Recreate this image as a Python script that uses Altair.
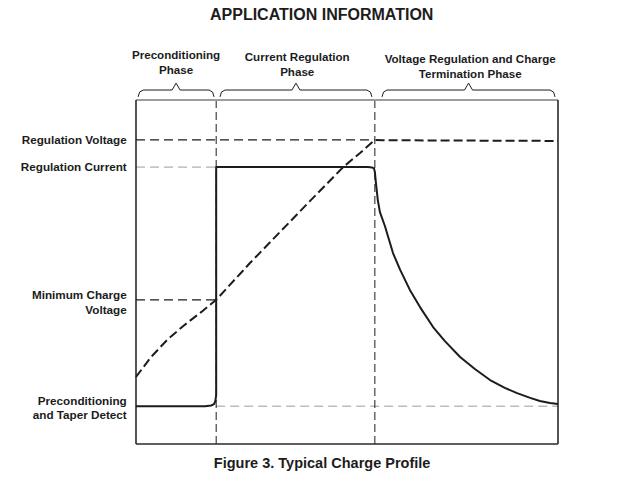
import altair as alt
import pandas as pd

# ---------------- data (time 0-100 across the plot, level 0-100 up the plot) -------------
phase_bounds = [19.0, 56.6]

level_names = ["Regulation Voltage", "Regulation Current",
               "Minimum Charge Voltage", "Preconditioning and Taper Detect"]
level_values = [88.4, 80.5, 41.9, 11.0]

voltage_t = [0, 3.5, 7.5, 11.5, 15.5, 19.0, 27.0, 34.1, 41.2, 49.1, 53.1, 56.6, 58.5, 100]
voltage_v = [19.5, 25.2, 30.4, 34.6, 38.4, 41.9, 52.6, 61.6, 70.6, 80.5, 84.6, 88.4, 88.3, 88.1]

current_t = [0, 16.4, 17.8, 18.5, 18.8, 19.0, 19.0, 55.0, 55.9, 56.4, 56.6, 56.9, 57.3,
             57.8, 59.0, 60.9, 62.6, 64.9, 67.3, 70.4, 73.2, 76.8, 80.3, 83.9, 87.4,
             90.3, 93.4, 95.7, 98.1, 100]
current_i = [11.0, 11.0, 11.2, 11.6, 12.5, 14.2, 80.5, 80.5, 80.4, 80.1, 79.1, 75.3, 70.9,
             67.4, 63.3, 55.5, 50.6, 44.8, 39.8, 34.0, 29.9, 25.3, 21.8, 18.6, 16.3,
             14.8, 13.4, 12.5, 11.9, 11.6]

left_label_lines = ["Regulation Voltage", "Regulation Current", "Minimum Charge", "Voltage",
                    "Preconditioning", "and Taper Detect"]
left_label_y = [88.4, 80.5, 43.3, 39.0, 12.5, 8.4]

phase_label_lines = ["Preconditioning", "Phase", "Current Regulation", "Phase",
                     "Voltage Regulation and Charge", "Termination Phase"]
phase_label_x = [9.5, 9.5, 38.2, 38.2, 79.2, 79.2]
phase_label_y = [112.8, 108.4, 112.2, 107.8, 111.6, 107.3]

brace_start = [0.5, 19.9, 58.3]
brace_end = [18.5, 55.9, 99.3]

title_text = "APPLICATION INFORMATION"
caption_text = "Figure 3. Typical Charge Profile"

# ---------------- styling -------------
FONT = "Liberation Sans"
INK = "#1c1c1c"
GREY = "#9c9c9c"

xs = alt.Scale(domain=[0, 100], nice=False, zero=False)
ys = alt.Scale(domain=[0, 100], nice=False, zero=False)


def xq(f):
    return alt.X(f"{f}:Q", scale=xs, axis=None)


def yq(f):
    return alt.Y(f"{f}:Q", scale=ys, axis=None)


# box
box_df = pd.DataFrame({
    "x": [0, 0, 100], "x2": [0, 100, 100],
    "y": [0, 0, 0], "y2": [100, 0, 100],
})
box = alt.Chart(box_df).mark_rule(color="#2a2a2a", strokeWidth=1.6).encode(
    x=xq("x"), x2="x2:Q", y=yq("y"), y2="y2:Q")
box_top = alt.Chart(pd.DataFrame({"x": [0], "x2": [100], "y": [100]})).mark_rule(
    color=GREY, strokeWidth=2).encode(x=xq("x"), x2="x2:Q", y=yq("y"))

# phase boundary lines
vdf = pd.DataFrame({"x": phase_bounds, "y": [0, 0], "y2": [100, 100]})
vlines = alt.Chart(vdf).mark_rule(color=INK, strokeWidth=1, strokeDash=[8, 4]).encode(
    x=xq("x"), y=yq("y"), y2="y2:Q")

# level guide lines
dark_guides = pd.DataFrame({
    "x": [0, 0], "x2": [phase_bounds[1], phase_bounds[0]],
    "y": [level_values[0], level_values[2]]})
grey_guides = pd.DataFrame({
    "x": [0, phase_bounds[0]], "x2": [phase_bounds[0], 100],
    "y": [level_values[1], level_values[3]]})
g_dark = alt.Chart(dark_guides).mark_rule(color=INK, strokeWidth=1.2, strokeDash=[9, 5]).encode(
    x=xq("x"), x2="x2:Q", y=yq("y"))
g_grey = alt.Chart(grey_guides).mark_rule(color=GREY, strokeWidth=1, strokeDash=[9, 5]).encode(
    x=xq("x"), x2="x2:Q", y=yq("y"))

# voltage curve
vol_df = pd.DataFrame({"t": voltage_t, "v": voltage_v, "i": range(len(voltage_t))})
voltage = alt.Chart(vol_df).mark_line(color=INK, strokeWidth=2, strokeDash=[9, 4]).encode(
    x=xq("t"), y=yq("v"), order="i:Q")

# current curve
cur_df = pd.DataFrame({"t": current_t, "c": current_i, "i": range(len(current_t))})
current = alt.Chart(cur_df).mark_line(color=INK, strokeWidth=2, strokeJoin="round").encode(
    x=xq("t"), y=yq("c"), order="i:Q")

# braces
rows = []
for b, (s, e) in enumerate(zip(brace_start, brace_end)):
    m = (s + e) / 2
    pts = [(s, 100.9), (s + 0.35, 102.3), (s + 1.2, 102.9), (m - 0.95, 102.9), (m, 104.9),
           (m + 0.95, 102.9), (e - 1.2, 102.9), (e - 0.35, 102.3), (e, 100.9)]
    for k, (px, py) in enumerate(pts):
        rows.append({"b": b, "k": k, "x": px, "y": py})
brace_df = pd.DataFrame(rows)
braces = alt.Chart(brace_df).mark_line(color=INK, strokeWidth=1, interpolate="linear").encode(
    x=xq("x"), y=yq("y"), detail="b:N", order="k:Q")

# left labels
ll_df = pd.DataFrame({"t": left_label_lines, "y": left_label_y, "x": [-2.2] * len(left_label_y)})
left_labels = alt.Chart(ll_df).mark_text(
    align="right", baseline="middle", font=FONT, fontWeight="bold", fontSize=11.7, color=INK
).encode(x=xq("x"), y=yq("y"), text="t:N")

# phase labels
pl_df = pd.DataFrame({"t": phase_label_lines, "x": phase_label_x, "y": phase_label_y})
phase_labels = alt.Chart(pl_df).mark_text(
    align="center", baseline="middle", font=FONT, fontWeight="bold", fontSize=11.6, color=INK
).encode(x=xq("x"), y=yq("y"), text="t:N")

# title and caption
tt_df = pd.DataFrame({"t": [title_text], "x": [44.0], "y": [124.7]})
title = alt.Chart(tt_df).mark_text(
    align="center", baseline="middle", font=FONT, fontWeight="bold", fontSize=16, color=INK
).encode(x=xq("x"), y=yq("y"), text="t:N")
cap_df = pd.DataFrame({"t": [caption_text], "x": [44.1], "y": [-5.8]})
caption = alt.Chart(cap_df).mark_text(
    align="center", baseline="middle", font=FONT, fontWeight="bold", fontSize=14.5, color=INK
).encode(x=xq("x"), y=yq("y"), text="t:N")

chart = alt.layer(
    g_grey, g_dark, vlines, box_top, box, voltage, current, braces,
    left_labels, phase_labels, title, caption
).properties(
    width=422, height=344,
    autosize=alt.AutoSizeParams(type="none"),
    padding={"left": 136, "top": 100, "right": 62, "bottom": 39},
    background="white",
).configure_view(stroke=None)

chart.save("out.html", embed_options={"renderer": "svg", "actions": False})
